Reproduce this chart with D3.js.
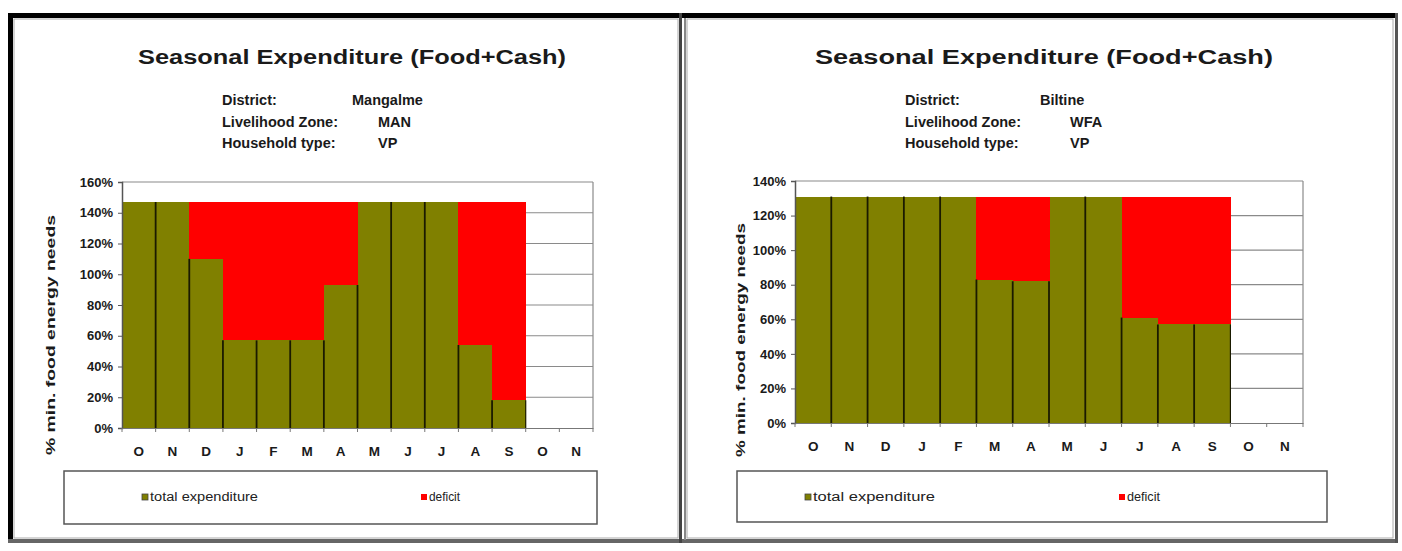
<!DOCTYPE html>
<html><head><meta charset="utf-8">
<script src="https://cdn.jsdelivr.net/npm/d3@7"></script>
<style>body{margin:0;background:#fff}svg{display:block}text{font-family:"Liberation Sans",Arial,sans-serif}</style>
</head><body>
<script>
const months = ["O","N","D","J","F","M","A","M","J","J","A","S","O","N"];
const titleText = "Seasonal Expenditure (Food+Cash)";
const axisTitle = "% min. food energy needs";
const seriesNames = ["total expenditure","deficit"];
const seriesColors = ["#808000","#ff0000"];

// Left: Mangalme
const leftInfo = [["District:","Mangalme"],["Livelihood Zone:","MAN"],["Household type:","VP"]];
const leftTotal   = [147,147,110,57,57,57,93,147,147,147,54,18,null,null];
const leftDeficit = [0,0,37,90,90,90,54,0,0,0,93,129,null,null];
const leftTicks = [0,20,40,60,80,100,120,140,160];

// Right: Biltine
const rightInfo = [["District:","Biltine"],["Livelihood Zone:","WFA"],["Household type:","VP"]];
const rightTotal   = [131,131,131,131,131,83,82,131,131,61,57,57,null,null];
const rightDeficit = [0,0,0,0,0,48,49,0,0,70,74,74,null,null];
const rightTicks = [0,20,40,60,80,100,120,140];

const svg = d3.select("body").append("svg").attr("width",1402).attr("height",551);

// outer frame
svg.append("rect").attr("x",8).attr("y",13).attr("width",1390).attr("height",530).attr("fill","#fff");
svg.append("rect").attr("x",8).attr("y",13).attr("width",1390).attr("height",5).attr("fill","#000");
svg.append("rect").attr("x",8).attr("y",13).attr("width",5).attr("height",530).attr("fill","#000");
svg.append("rect").attr("x",8).attr("y",539).attr("width",1390).attr("height",4).attr("fill","#666");
svg.append("rect").attr("x",1395).attr("y",13).attr("width",3).attr("height",530).attr("fill","#555");
svg.append("rect").attr("x",679).attr("y",13).attr("width",3).attr("height",530).attr("fill","#444");
svg.append("rect").attr("x",684).attr("y",18).attr("width",2).attr("height",522).attr("fill","#888");
svg.append("rect").attr("x",14).attr("y",19).attr("width",664).attr("height",519).attr("fill","none").attr("stroke","#aaa").attr("stroke-width",1);
svg.append("rect").attr("x",687).attr("y",19).attr("width",706).attr("height",519).attr("fill","none").attr("stroke","#aaa").attr("stroke-width",1);

function panel(cfg){
  const g = svg.append("g");
  // title
  g.append("text").attr("x",cfg.titleX).attr("y",64).attr("text-anchor","start")
    .attr("font-size",19.5).attr("font-weight","bold").attr("fill","#1a1a1a")
    .attr("textLength",cfg.titleW).attr("lengthAdjust","spacingAndGlyphs").text(titleText);
  // info lines
  cfg.info.forEach((row,i)=>{
    const y = 105 + i*21.5;
    g.append("text").attr("x",cfg.infoX).attr("y",y).attr("font-size",14.5).attr("font-weight","bold")
      .attr("fill","#1a1a1a").text(row[0]);
    g.append("text").attr("x",i===0?cfg.valX0:cfg.valX).attr("y",y).attr("font-size",14.5).attr("font-weight","bold")
      .attr("fill","#1a1a1a").text(row[1]);
  });

  const x = d3.scaleBand().domain(d3.range(months.length)).range([cfg.x0,cfg.x1]).paddingInner(0).paddingOuter(0);
  const y = d3.scaleLinear().domain([0,cfg.ymax]).range([cfg.y0,cfg.yTop]);

  // gridlines
  g.append("g").selectAll("line").data(cfg.ticks.slice(1)).join("line")
    .attr("x1",cfg.x0).attr("x2",cfg.x1).attr("y1",d=>y(d)).attr("y2",d=>y(d))
    .attr("stroke","#8a8a8a").attr("stroke-width",1.2);
  g.append("line").attr("x1",cfg.x1).attr("x2",cfg.x1).attr("y1",cfg.yTop).attr("y2",cfg.y0)
    .attr("stroke","#8a8a8a").attr("stroke-width",1.2);

  const idx = d3.range(months.length).filter(i=>cfg.total[i]!=null);
  // total bars
  g.append("g").attr("shape-rendering","crispEdges").selectAll("rect").data(idx).join("rect")
    .attr("x",i=>x(i)).attr("width",x.bandwidth()+0.6)
    .attr("y",i=>y(cfg.total[i])).attr("height",i=>y(0)-y(cfg.total[i]))
    .attr("fill",seriesColors[0]);
  // deficit bars stacked
  g.append("g").attr("shape-rendering","crispEdges").selectAll("rect").data(idx.filter(i=>cfg.deficit[i]>0)).join("rect")
    .attr("x",i=>x(i)).attr("width",x.bandwidth()+0.6)
    .attr("y",i=>y(cfg.total[i]+cfg.deficit[i])).attr("height",i=>y(cfg.total[i])-y(cfg.total[i]+cfg.deficit[i]))
    .attr("fill",seriesColors[1]);
  // dark separators between green bars
  g.append("g").selectAll("line").data(idx.slice(1)).join("line")
    .attr("x1",i=>x(i)).attr("x2",i=>x(i)).attr("y1",y(0))
    .attr("y2",i=>y(Math.min(cfg.total[i],cfg.total[i-1])))
    .attr("stroke","#1a1a00").attr("stroke-width",1.8);
  const lastI = idx[idx.length-1];
  g.append("line").attr("x1",x(lastI)+x.bandwidth()).attr("x2",x(lastI)+x.bandwidth())
    .attr("y1",y(0)).attr("y2",y(cfg.total[lastI])).attr("stroke","#1a1a00").attr("stroke-width",1.2);

  // y axis
  const ya = g.append("g").attr("transform",`translate(${cfg.x0},0)`)
    .call(d3.axisLeft(y).tickValues(cfg.ticks).tickFormat(d=>d+"%").tickSize(4).tickPadding(5));
  ya.select(".domain").attr("stroke","#555").attr("stroke-width",1.5);
  ya.selectAll(".tick line").attr("stroke","#555");
  ya.selectAll("text").attr("font-size",13).attr("font-weight","bold").attr("fill","#1a1a1a")
    .attr("font-family","Liberation Sans, Arial, sans-serif");

  // x axis
  const xa = g.append("g").attr("transform",`translate(0,${cfg.y0})`)
    .call(d3.axisBottom(x).tickFormat(i=>months[i]).tickSize(0).tickPadding(18));
  xa.select(".domain").attr("stroke","#777").attr("stroke-width",1.2);
  xa.selectAll("text").attr("font-size",13.5).attr("font-weight","bold").attr("fill","#1a1a1a")
    .attr("font-family","Liberation Sans, Arial, sans-serif");
  g.append("g").selectAll("line").data(d3.range(months.length+1)).join("line")
    .attr("x1",i=>cfg.x0+i*x.step()).attr("x2",i=>cfg.x0+i*x.step())
    .attr("y1",cfg.y0).attr("y2",cfg.y0+4).attr("stroke","#777");

  // axis title
  g.append("text").attr("transform",`translate(${cfg.atX},${cfg.atY}) rotate(-90)`)
    .attr("text-anchor","middle").attr("font-size",13).attr("font-weight","bold").attr("fill","#1a1a1a")
    .attr("textLength",cfg.atLen).attr("lengthAdjust","spacingAndGlyphs").text(axisTitle);

  // legend
  g.append("rect").attr("x",cfg.lg[0]).attr("y",cfg.lg[1]).attr("width",cfg.lg[2]).attr("height",cfg.lg[3])
    .attr("fill","#fff").attr("stroke","#555").attr("stroke-width",1.5);
  seriesNames.forEach((n,k)=>{
    g.append("rect").attr("x",cfg.lgItems[k][0]).attr("y",cfg.lg[1]+23).attr("width",6).attr("height",6)
      .attr("fill",seriesColors[k]).attr("stroke",k===0?"#444":"none").attr("stroke-width",0.8);
    g.append("text").attr("x",cfg.lgItems[k][0]+8).attr("y",cfg.lg[1]+30).attr("font-size",12).attr("fill","#222")
      .attr("textLength",cfg.lgItems[k][1]).attr("lengthAdjust","spacingAndGlyphs").text(n);
  });
}

panel({titleX:138,titleW:428,info:leftInfo,infoX:222,valX0:352,valX:378,
  x0:122,x1:593,y0:428,yTop:182,ymax:160,ticks:leftTicks,total:leftTotal,deficit:leftDeficit,
  atX:55,atY:335,atLen:240,lg:[64,471,533,53],lgItems:[[142,108],[421,31]]});
panel({titleX:815,titleW:458,info:rightInfo,infoX:905,valX0:1040,valX:1070,
  x0:795,x1:1303,y0:423,yTop:181,ymax:140,ticks:rightTicks,total:rightTotal,deficit:rightDeficit,
  atX:745,atY:340,atLen:234,lg:[737,471,590,51],lgItems:[[805,122],[1119,33]]});
</script>
</body></html>
